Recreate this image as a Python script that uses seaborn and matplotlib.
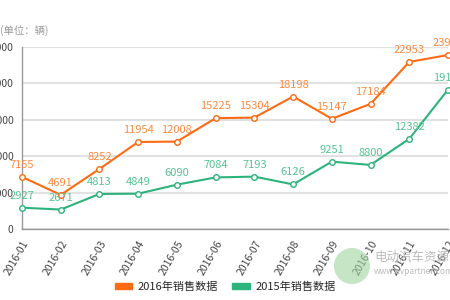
import pandas as pd
import matplotlib.pyplot as plt
import matplotlib.patches as mpatches
import seaborn as sns

months = ['2016-01', '2016-02', '2016-03', '2016-04', '2016-05', '2016-06',
          '2016-07', '2016-08', '2016-09', '2016-10', '2016-11', '2016-12']
sales_2016 = [7155, 4691, 8252, 11954, 12008, 15225, 15304, 18198, 15147, 17184, 22953, 23900]
sales_2015 = [2927, 2671, 4813, 4849, 6090, 7084, 7193, 6126, 9251, 8800, 12382, 19150]
y_ticks = [0, 5000, 10000, 15000, 20000, 25000]

sns.set_style('white')
plt.rcParams['font.family'] = ['Noto Sans CJK SC', 'DejaVu Sans']

orange = '#FF6A13'
orange_txt = '#FF8A3D'
green = '#2DB37C'
green_txt = '#55C493'

df = pd.DataFrame({'idx': range(len(months)), 'y2016': sales_2016, 'y2015': sales_2015})

fig = plt.figure(figsize=(4.5, 3), dpi=100)
ax = fig.add_axes([22 / 450, 71 / 300, 426 / 450, 182 / 300])

for col, c, tc in [('y2016', orange, orange_txt), ('y2015', green, green_txt)]:
    sns.lineplot(data=df, x='idx', y=col, ax=ax, color=c, linewidth=1.5,
                 marker='o', markersize=4, markerfacecolor='white',
                 markeredgecolor=c, markeredgewidth=1, clip_on=False, zorder=3)
    for i, v in enumerate(df[col]):
        ax.annotate(str(v), (i, v), xytext=(0, 5), textcoords='offset points',
                    ha='center', va='bottom', fontsize=8, color=tc, zorder=4)

ax.set_xlim(0, 11)
ax.set_ylim(0, 25000)
ax.set_xticks(range(len(months)))
ax.set_xticklabels(months, rotation=60, ha='right', rotation_mode='anchor',
                   fontsize=7.5, color='#444444')
ax.set_yticks(y_ticks)
ax.set_yticklabels([str(t) for t in y_ticks], fontsize=7.5, color='#444444')
ax.tick_params(axis='both', length=4, width=1, color='#888888', direction='out', pad=2)
ax.tick_params(axis='x', pad=3)
ax.grid(axis='y', color='#E2E2E2', linewidth=1.5)
ax.set_axisbelow(True)
for s in ['top', 'right']:
    ax.spines[s].set_visible(False)
for s in ['left', 'bottom']:
    ax.spines[s].set_color('#999999')
    ax.spines[s].set_linewidth(1)
ax.set_xlabel('')
ax.set_ylabel('')

fig.text(0, 1 - 31 / 300, '(单位：辆)', fontsize=7.5, color='#999999', va='center', ha='left')

# watermark
fig.patches.append(mpatches.Ellipse((352 / 450, 1 - 266 / 300), 36 / 450, 36 / 300,
                                    transform=fig.transFigure, facecolor='#9FD49F',
                                    edgecolor='none', alpha=0.6, zorder=5))
fig.text(374 / 450, 1 - 257 / 300, '电动汽车资源网', fontsize=9, color='#BBBBBB', va='center', zorder=6)
fig.text(374 / 450, 1 - 271 / 300, 'www.evpartner.com', fontsize=6, color='#BBBBBB', va='center', zorder=6)

handles = [mpatches.Patch(color=orange, label='2016年销售数据'),
           mpatches.Patch(color=green, label='2015年销售数据')]
fig.legend(handles=handles, loc='center', bbox_to_anchor=(0.5, 1 - 287 / 300), ncol=2,
           frameon=False, fontsize=8, handlelength=1.6, handleheight=0.5,
           handletextpad=0.5, columnspacing=1.2)

fig.savefig('out.png', dpi=100)
